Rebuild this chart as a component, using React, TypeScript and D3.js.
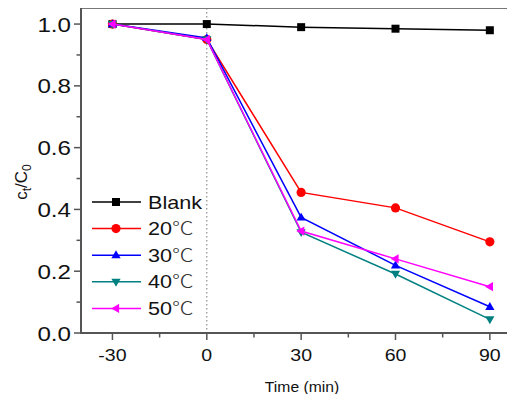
import React, { useEffect, useRef } from "react";
import * as d3 from "d3";

const times = [-30, 0, 30, 60, 90];
const blank = [1.0, 1.0, 0.99, 0.985, 0.98];
const t20 = [1.0, 0.95, 0.455, 0.405, 0.295];
const t30 = [1.0, 0.955, 0.374, 0.219, 0.085];
const t40 = [1.0, 0.95, 0.326, 0.191, 0.044];
const t50 = [1.0, 0.95, 0.33, 0.24, 0.15];
const seriesNames = ["Blank", "20℃", "30℃", "40℃", "50℃"];
const xTicks = [-30, 0, 30, 60, 90];
const yTicks = [0, 0.2, 0.4, 0.6, 0.8, 1.0];

const colors = ["#000000", "#ff0000", "#0000ff", "#008080", "#ff00ff"];
const symbols = ["square", "circle", "triUp", "triDown", "triLeft"];

const W = 515;
const H = 402;
const left = 81;
const right = 515;
const top = 8;
const bottom = 333;

const markerPath = (kind: string, s: number) => {
  if (kind === "square") return `M${-s},${-s}h${2 * s}v${2 * s}h${-2 * s}z`;
  if (kind === "triUp") return `M0,${-s * 1.15}L${s * 1.1},${s * 0.75}L${-s * 1.1},${s * 0.75}z`;
  if (kind === "triDown") return `M0,${s * 1.15}L${s * 1.1},${-s * 0.75}L${-s * 1.1},${-s * 0.75}z`;
  if (kind === "triLeft") return `M${-s * 1.15},0L${s * 0.75},${-s * 1.1}L${s * 0.75},${s * 1.1}z`;
  return d3.symbol(d3.symbolCircle, Math.PI * s * s * 1.2)() || "";
};

export default function App() {
  const ref = useRef<SVGSVGElement>(null);

  useEffect(() => {
    const svg = d3.select(ref.current);
    svg.selectAll("*").remove();

    const x = d3.scaleLinear().domain([-40, 98]).range([left, right]);
    const y = d3.scaleLinear().domain([0, 1.052]).range([bottom, top]);
    const axisColor = "#555";
    const font = "Arial, 'Liberation Sans', sans-serif";

    // top frame line
    svg.append("line").attr("x1", left).attr("x2", right).attr("y1", top).attr("y2", top)
      .attr("stroke", "#777").attr("stroke-width", 2);

    // dotted line at t = 0
    svg.append("line").attr("x1", x(0)).attr("x2", x(0)).attr("y1", top).attr("y2", bottom)
      .attr("stroke", "#777").attr("stroke-width", 1).attr("stroke-dasharray", "1.5,2.5");

    const data = [blank, t20, t30, t40, t50];
    const line = d3.line<number>().x((_, i) => x(times[i])).y(d => y(d));

    data.forEach((vals, k) => {
      svg.append("path").datum(vals).attr("d", line).attr("fill", "none")
        .attr("stroke", colors[k]).attr("stroke-width", 1.5);
      svg.selectAll(null).data(vals).enter().append("path")
        .attr("d", markerPath(symbols[k], k === 0 ? 4 : 4.2))
        .attr("transform", (d, i) => `translate(${x(times[i])},${y(d)})`)
        .attr("fill", colors[k]);
    });

    // axes
    svg.append("line").attr("x1", left).attr("x2", left).attr("y1", top - 1).attr("y2", bottom + 1)
      .attr("stroke", axisColor).attr("stroke-width", 2);
    svg.append("line").attr("x1", left - 1).attr("x2", right).attr("y1", bottom).attr("y2", bottom)
      .attr("stroke", axisColor).attr("stroke-width", 2);

    d3.range(0, 1.05, 0.1).forEach((v, i) => {
      const major = i % 2 === 0;
      svg.append("line").attr("x1", left).attr("x2", left - (major ? 7 : 4.5))
        .attr("y1", y(v)).attr("y2", y(v)).attr("stroke", axisColor).attr("stroke-width", 1.5);
    });
    yTicks.forEach(v => {
      svg.append("text").attr("text-anchor", "end")
        .attr("transform", `translate(${left - 10},${y(v) + 7.5}) scale(1.15,1)`)
        .attr("font-family", font).attr("font-size", 21).attr("fill", "#111")
        .text(v.toFixed(1));
    });

    d3.range(-30, 91, 15).forEach((v, i) => {
      const major = i % 2 === 0;
      svg.append("line").attr("x1", x(v)).attr("x2", x(v))
        .attr("y1", bottom).attr("y2", bottom + (major ? 7 : 4.5))
        .attr("stroke", axisColor).attr("stroke-width", 1.5);
    });
    xTicks.forEach(v => {
      svg.append("text").attr("text-anchor", "middle")
        .attr("transform", `translate(${x(v)},${bottom + 28}) scale(1.15,1)`)
        .attr("font-family", font).attr("font-size", 17).attr("fill", "#111")
        .text(String(v));
    });

    svg.append("text").attr("text-anchor", "middle")
      .attr("transform", `translate(${(left + right) / 2 + 4},${bottom + 59}) scale(1.12,1)`)
      .attr("font-family", font).attr("font-size", 14).attr("fill", "#111")
      .text("Time (min)");

    const yl = svg.append("text").attr("text-anchor", "middle")
      .attr("transform", `translate(27,182) rotate(-90)`)
      .attr("font-family", font).attr("font-size", 17).attr("fill", "#111");
    yl.append("tspan").text("c");
    yl.append("tspan").attr("font-size", 12).attr("dy", 4).text("t");
    yl.append("tspan").attr("dy", -4).text("/C");
    yl.append("tspan").attr("font-size", 12).attr("dy", 4).text("0");

    // legend
    const lg = svg.append("g");
    seriesNames.forEach((name, k) => {
      const ly = 202 + k * 26.6;
      lg.append("line").attr("x1", 92).attr("x2", 141).attr("y1", ly).attr("y2", ly)
        .attr("stroke", colors[k]).attr("stroke-width", 1.5);
      lg.append("path").attr("d", markerPath(symbols[k], k === 0 ? 4 : 4.2))
        .attr("transform", `translate(116,${ly})`).attr("fill", colors[k]);
      const t = lg.append("text").attr("transform", `translate(148,${ly + 6.5}) scale(1.2,1)`)
        .attr("font-family", font).attr("font-size", 18).attr("fill", "#111");
      const deg = name.indexOf("℃");
      if (deg < 0) {
        t.text(name);
      } else {
        t.append("tspan").text(name.slice(0, deg));
        t.append("tspan").attr("font-family", "'Noto Sans CJK SC', sans-serif")
          .attr("font-weight", 300).attr("fill", "#333").text("℃");
      }
    });
  }, []);

  return (
    <div style={{ margin: -8 }}>
      <svg ref={ref} width={W} height={H} style={{ display: "block", background: "#fff" }} />
    </div>
  );
}
